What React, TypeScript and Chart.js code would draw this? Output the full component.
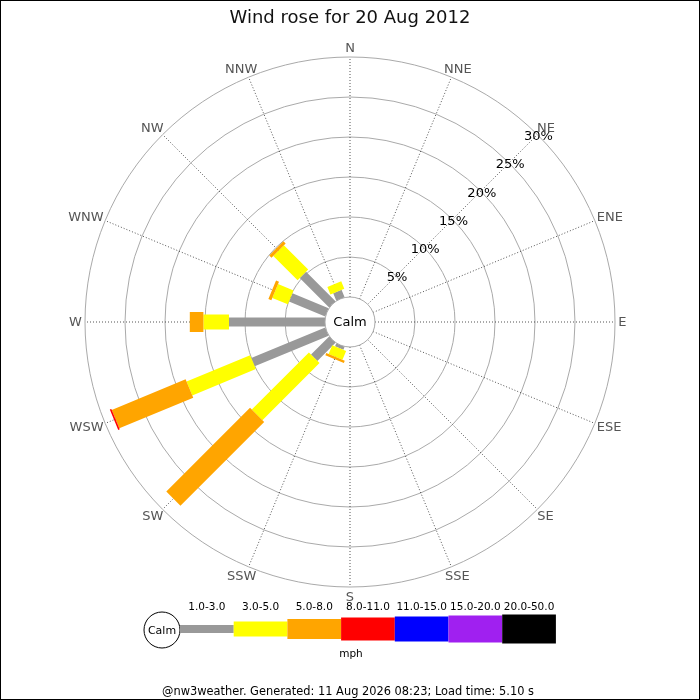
import { useEffect, useRef } from 'react';
import { Chart, registerables } from 'chart.js';

Chart.register(...registerables);

// ---------- data ----------
const directions = ['N', 'NNE', 'NE', 'ENE', 'E', 'ESE', 'SE', 'SSE', 'S', 'SSW', 'SW', 'WSW', 'W', 'WNW', 'NW', 'NNW'];
const speedBins = ['1.0-3.0', '3.0-5.0', '5.0-8.0', '8.0-11.0', '11.0-15.0', '15.0-20.0', '20.0-50.0'];
// percentage of time per direction, one array per speed bin (mph)
const speed1to3 = [0, 0, 0, 0, 0, 0, 0, 0, 0, 0.4, 3.2, 10.0, 12.0, 4.9, 5.2, 1.0];
const speed3to5 = [0, 0, 0, 0, 0, 0, 0, 0, 0, 1.2, 10.1, 8.6, 3.2, 2.1, 4.3, 1.0];
const speed5to8 = [0, 0, 0, 0, 0, 0, 0, 0, 0, 0.3, 14.8, 10.0, 1.7, 0.4, 0.4, 0];
const speed8to11 = [0, 0, 0, 0, 0, 0, 0, 0, 0, 0, 0, 0.2, 0, 0, 0, 0];
const speed11to15 = [0, 0, 0, 0, 0, 0, 0, 0, 0, 0, 0, 0, 0, 0, 0, 0];
const speed15to20 = [0, 0, 0, 0, 0, 0, 0, 0, 0, 0, 0, 0, 0, 0, 0, 0];
const speed20to50 = [0, 0, 0, 0, 0, 0, 0, 0, 0, 0, 0, 0, 0, 0, 0, 0];
const ringTicks = [5, 10, 15, 20, 25, 30];
const ringTickLabels = ['5%', '10%', '15%', '20%', '25%', '30%'];
const titleText = 'Wind rose for 20 Aug 2012';
const unitText = 'mph';
const calmText = 'Calm';
const footerText = '@nw3weather. Generated: 11 Aug 2026 08:23; Load time: 5.10 s';

// ---------- styles ----------
const binColors = ['#999999', '#ffff00', '#ffa500', '#ff0000', '#0000ff', '#a020f0', '#000000'];
const barWidths = [9, 15, 20, 22, 24, 26, 28];
const legendHeights = [8, 15, 20, 23, 25, 27, 29];
const FONT = '"DejaVu Sans", "Liberation Sans", sans-serif';
const CALM_OFFSET = 3.125; // calm circle radius in % units (25px at 8px per %)

const allBins = [speed1to3, speed3to5, speed5to8, speed8to11, speed11to15, speed15to20, speed20to50];

function polar(r: number, i: number) {
  const a = (i * 22.5 * Math.PI) / 180;
  return { x: r * Math.sin(a), y: r * Math.cos(a) };
}

function buildBarData(k: number) {
  const pts: { x: number | null; y: number | null }[] = [];
  directions.forEach((_, i) => {
    let start = CALM_OFFSET;
    for (let j = 0; j < k; j++) start += allBins[j][i];
    const v = allBins[k][i];
    if (v > 0) {
      pts.push(polar(start, i));
      pts.push(polar(start + v, i));
      pts.push({ x: null, y: null });
    }
  });
  return pts;
}

function buildSpokes() {
  const maxR = CALM_OFFSET + ringTicks[ringTicks.length - 1];
  const pts: { x: number | null; y: number | null }[] = [];
  directions.forEach((_, i) => {
    pts.push(polar(CALM_OFFSET, i));
    pts.push(polar(maxR, i));
    pts.push({ x: null, y: null });
  });
  return pts;
}

const rosePlugin = {
  id: 'rose',
  beforeDraw(chart: any) {
    const { ctx } = chart;
    ctx.save();
    ctx.fillStyle = '#ffffff';
    ctx.fillRect(0, 0, chart.width, chart.height);
    ctx.restore();
  },
  beforeDatasetsDraw(chart: any) {
    const { ctx } = chart;
    const xs = chart.scales.x;
    const ys = chart.scales.y;
    const cx = xs.getPixelForValue(0);
    const cy = ys.getPixelForValue(0);
    ctx.save();
    ctx.strokeStyle = '#aaaaaa';
    ctx.lineWidth = 1;
    ringTicks.forEach((t) => {
      const r = xs.getPixelForValue(CALM_OFFSET + t) - cx;
      ctx.beginPath();
      ctx.arc(cx, cy, r, 0, Math.PI * 2);
      ctx.stroke();
    });
    ctx.restore();
  },
  afterDatasetsDraw(chart: any) {
    const { ctx } = chart;
    const xs = chart.scales.x;
    const ys = chart.scales.y;
    const cx = xs.getPixelForValue(0);
    const cy = ys.getPixelForValue(0);
    const px = (p: { x: number; y: number }) => ({ x: xs.getPixelForValue(p.x), y: ys.getPixelForValue(p.y) });
    ctx.save();
    // calm circle
    const calmR = xs.getPixelForValue(CALM_OFFSET) - cx;
    ctx.beginPath();
    ctx.arc(cx, cy, calmR, 0, Math.PI * 2);
    ctx.fillStyle = '#ffffff';
    ctx.fill();
    ctx.strokeStyle = '#aaaaaa';
    ctx.lineWidth = 1;
    ctx.stroke();
    ctx.fillStyle = '#000000';
    ctx.font = `13px ${FONT}`;
    ctx.textAlign = 'center';
    ctx.textBaseline = 'middle';
    ctx.fillText(calmText, cx, cy + 1);

    // ring labels along NE
    ringTicks.forEach((t, k) => {
      const p = px(polar(CALM_OFFSET + t, 2));
      ctx.fillStyle = '#000000';
      ctx.fillText(ringTickLabels[k], p.x + 1, p.y + 2);
    });

    // direction labels: text box touching a circle just outside the outer ring
    const maxR = CALM_OFFSET + ringTicks[ringTicks.length - 1];
    ctx.fillStyle = '#555555';
    directions.forEach((d, i) => {
      const a = (i * 22.5 * Math.PI) / 180;
      const p = px(polar(maxR + 0.4, i));
      const w = ctx.measureText(d).width;
      const h = 12;
      ctx.fillText(d, p.x + Math.sin(a) * w / 2, p.y - Math.cos(a) * h / 2 + 1);
    });

    // title
    ctx.fillStyle = '#111111';
    ctx.font = `18px ${FONT}`;
    ctx.fillText(titleText, chart.width / 2, 18);

    // legend
    const lx0 = 180;
    const segW = 53.7;
    const ly = 629;
    ctx.beginPath();
    ctx.arc(162, 630, 18, 0, Math.PI * 2);
    ctx.fillStyle = '#ffffff';
    ctx.fill();
    ctx.strokeStyle = '#000000';
    ctx.lineWidth = 1;
    ctx.stroke();
    ctx.fillStyle = '#000000';
    ctx.font = `11px ${FONT}`;
    ctx.fillText(calmText, 162, 631);
    speedBins.forEach((lab, k) => {
      const x = lx0 + k * segW;
      const h = legendHeights[k];
      ctx.fillStyle = binColors[k];
      ctx.fillRect(x, ly - h / 2, segW, h);
      ctx.fillStyle = '#000000';
      ctx.font = `10.5px ${FONT}`;
      ctx.fillText(lab, x + segW / 2, 607);
    });
    ctx.fillStyle = '#000000';
    ctx.font = `10.5px ${FONT}`;
    ctx.fillText(unitText, 351, 654);

    // footer
    ctx.font = `11.4px ${FONT}`;
    ctx.fillText(footerText, 348, 692);

    // border
    ctx.strokeStyle = '#000000';
    ctx.lineWidth = 1;
    ctx.strokeRect(0.5, 0.5, chart.width - 1, chart.height - 1);
    ctx.restore();
  },
};

export default function App() {
  const ref = useRef<HTMLCanvasElement | null>(null);
  useEffect(() => {
    if (!ref.current) return;
    const barSets = speedBins.map((lab, k) => ({
      label: lab,
      data: buildBarData(k),
      showLine: true,
      borderColor: binColors[k],
      backgroundColor: binColors[k],
      borderWidth: barWidths[k],
      borderCapStyle: 'butt' as const,
      pointRadius: 0,
      pointHoverRadius: 0,
      spanGaps: false,
      tension: 0,
      order: 10 - k,
    }));
    const spokes = {
      label: 'spokes',
      data: buildSpokes(),
      showLine: true,
      borderColor: 'rgba(0,0,0,0.85)',
      borderWidth: 0.8,
      borderDash: [1, 2],
      pointRadius: 0,
      pointHoverRadius: 0,
      spanGaps: false,
      order: 100,
    };
    const chart = new Chart(ref.current, {
      type: 'scatter',
      data: { datasets: [spokes, ...barSets] as any },
      options: {
        responsive: false,
        animation: false,
        events: [],
        layout: { padding: 0 },
        scales: {
          x: { type: 'linear', display: false, min: -43.75, max: 43.75 },
          y: { type: 'linear', display: false, min: -47.25, max: 40.25 },
        },
        plugins: {
          legend: { display: false },
          tooltip: { enabled: false },
          title: { display: false },
        },
      },
      plugins: [rosePlugin],
    });
    return () => chart.destroy();
  }, []);
  return (
    <div style={{ position: 'fixed', left: 0, top: 0, width: 700, height: 700, background: '#fff' }}>
      <canvas ref={ref} width={700} height={700} />
    </div>
  );
}
